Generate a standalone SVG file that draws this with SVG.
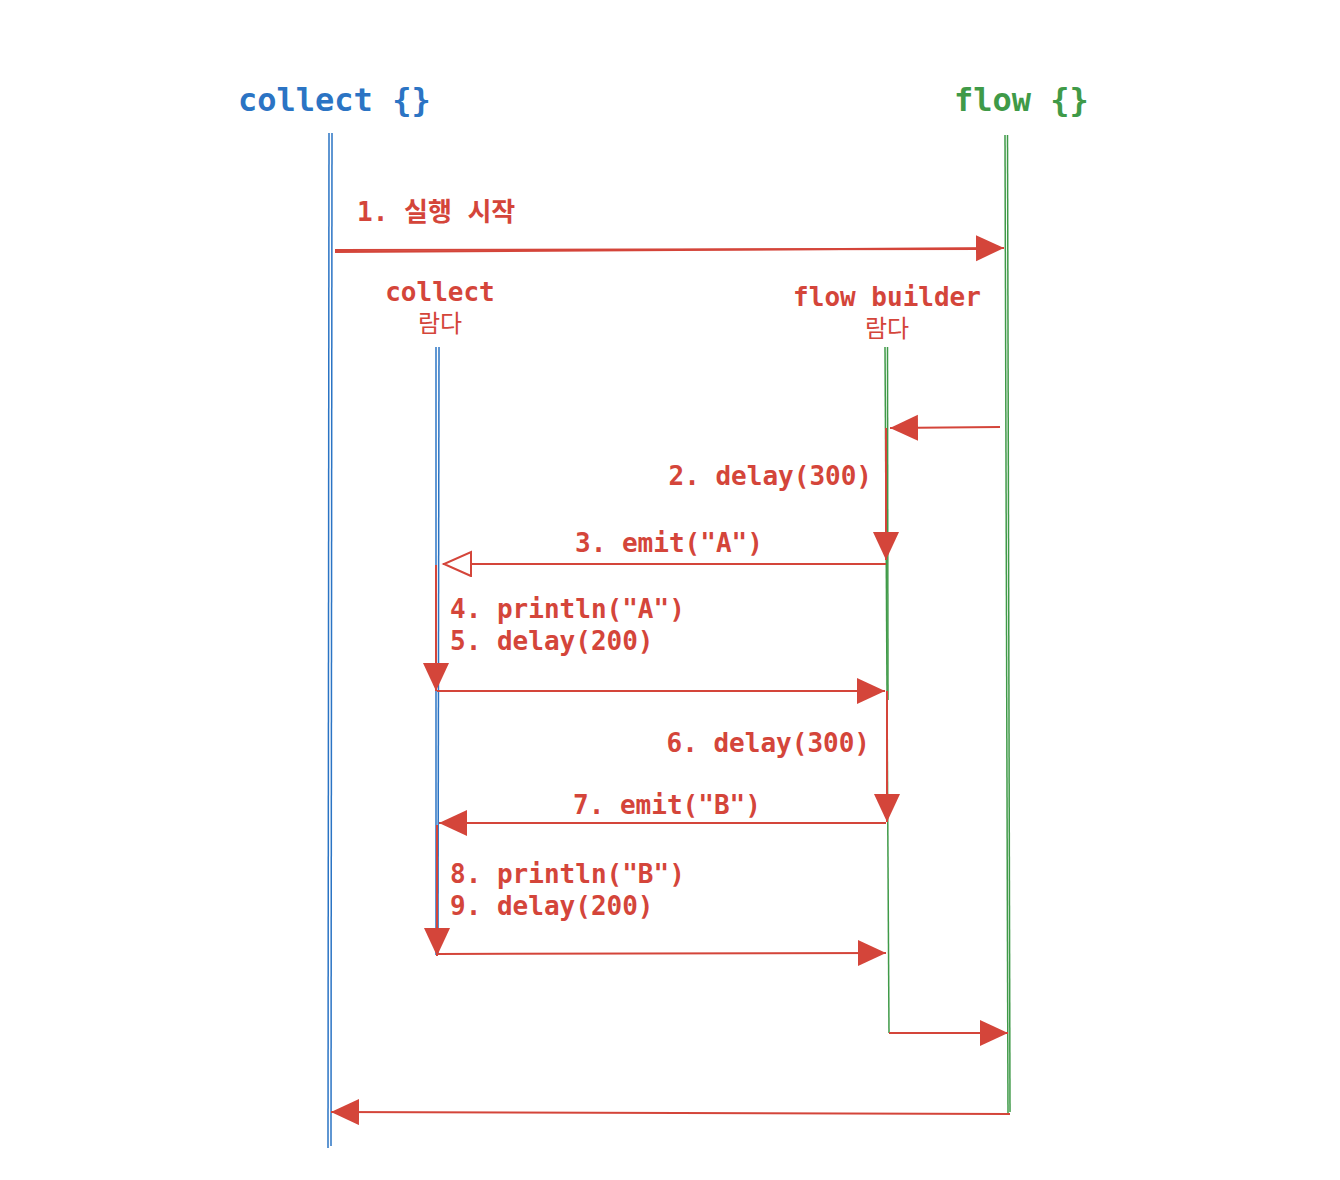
<svg xmlns="http://www.w3.org/2000/svg" width="1340" height="1180" viewBox="0 0 1340 1180">
<defs>
<style>
.title{font-family:"DejaVu Sans Mono","Liberation Mono",monospace;font-size:32px;font-weight:bold}
.lbl{font-family:"DejaVu Sans Mono","Liberation Mono","Noto Sans CJK KR",monospace;font-size:26px;fill:#d4453a;font-weight:bold}
.kr{font-family:"DejaVu Sans Mono","Noto Sans CJK KR",monospace;font-size:24px;fill:#d4453a}
.blue{stroke:#2b74c4;stroke-width:1.5;fill:none}
.green{stroke:#3f9a48;stroke-width:1.5;fill:none}
.arr{stroke:#d4453a;stroke-width:2;fill:none}
</style>
<marker id="ah" markerUnits="userSpaceOnUse" markerWidth="32" markerHeight="28" refX="28" refY="13" orient="auto">
<path d="M0,0 L28,13 L0,26 z" fill="#d4453a"/>
</marker>
<marker id="aho" markerUnits="userSpaceOnUse" markerWidth="32" markerHeight="28" refX="29" refY="13" orient="auto">
<path d="M1,1 L28,13 L1,25 z" fill="#fff" stroke="#d4453a" stroke-width="2"/>
</marker>
</defs>
<rect width="1340" height="1180" fill="#fff"/>

<g id="collect-main">
<text class="title" x="238" y="111" fill="#2b74c4">collect {}</text>
<line class="blue" x1="329" y1="133" x2="328" y2="1148"/>
<line class="blue" x1="332" y1="133" x2="331" y2="1146"/>
</g>
<g id="flow-main">
<text class="title" x="954" y="111" fill="#3f9a48">flow {}</text>
<line class="green" x1="1005" y1="135" x2="1008" y2="1113"/>
<line class="green" x1="1007.5" y1="135" x2="1010" y2="1112"/>
</g>
<g id="collect-lambda">
<text class="lbl" x="440" y="301" text-anchor="middle">collect</text>
<text class="kr" x="440" y="332" text-anchor="middle">람다</text>
<line class="blue" x1="436" y1="347" x2="436" y2="955"/>
<line class="blue" x1="439" y1="347" x2="438" y2="955"/>
</g>
<g id="flow-lambda">
<text class="lbl" x="887" y="306" text-anchor="middle">flow builder</text>
<text class="kr" x="887" y="337" text-anchor="middle">람다</text>
<line class="green" x1="885" y1="347" x2="889" y2="1033"/>
<line class="green" x1="887.5" y1="347" x2="888" y2="700"/>
</g>

<g id="connectors">
<line class="arr" x1="335" y1="252" x2="1004" y2="248" marker-end="url(#ah)"/>
<line class="arr" x1="335" y1="250" x2="990" y2="249" stroke-width="1"/>
<text class="lbl" x="357" y="221" font-weight="normal">1. 실행 시작</text>

<line class="arr" x1="1000" y1="427" x2="890" y2="428" marker-end="url(#ah)"/>
<line class="arr" x1="886" y1="428" x2="886" y2="560" marker-end="url(#ah)"/>
<text class="lbl" x="872" y="485" text-anchor="end">2. delay(300)</text>

<line class="arr" x1="886" y1="564" x2="443" y2="564" marker-end="url(#aho)"/>
<text class="lbl" x="575" y="552">3. emit("A")</text>

<line class="arr" x1="436" y1="565" x2="436" y2="691" marker-end="url(#ah)"/>
<text class="lbl" x="450" y="618">4. println("A")</text>
<text class="lbl" x="450" y="650">5. delay(200)</text>

<line class="arr" x1="437" y1="691" x2="885" y2="691" marker-end="url(#ah)"/>
<line class="arr" x1="887" y1="691" x2="887" y2="822" marker-end="url(#ah)"/>
<text class="lbl" x="870" y="752" text-anchor="end">6. delay(300)</text>

<line class="arr" x1="886" y1="823" x2="439" y2="823" marker-end="url(#ah)"/>
<text class="lbl" x="573" y="814">7. emit("B")</text>

<line class="arr" x1="437" y1="825" x2="437" y2="956" marker-end="url(#ah)"/>
<text class="lbl" x="450" y="883">8. println("B")</text>
<text class="lbl" x="450" y="915">9. delay(200)</text>

<line class="arr" x1="437" y1="954" x2="886" y2="953" marker-end="url(#ah)"/>
<line class="arr" x1="889" y1="1033" x2="1008" y2="1033" marker-end="url(#ah)"/>
<line class="arr" x1="1010" y1="1114" x2="331" y2="1112" marker-end="url(#ah)"/>
</g>
</svg>
